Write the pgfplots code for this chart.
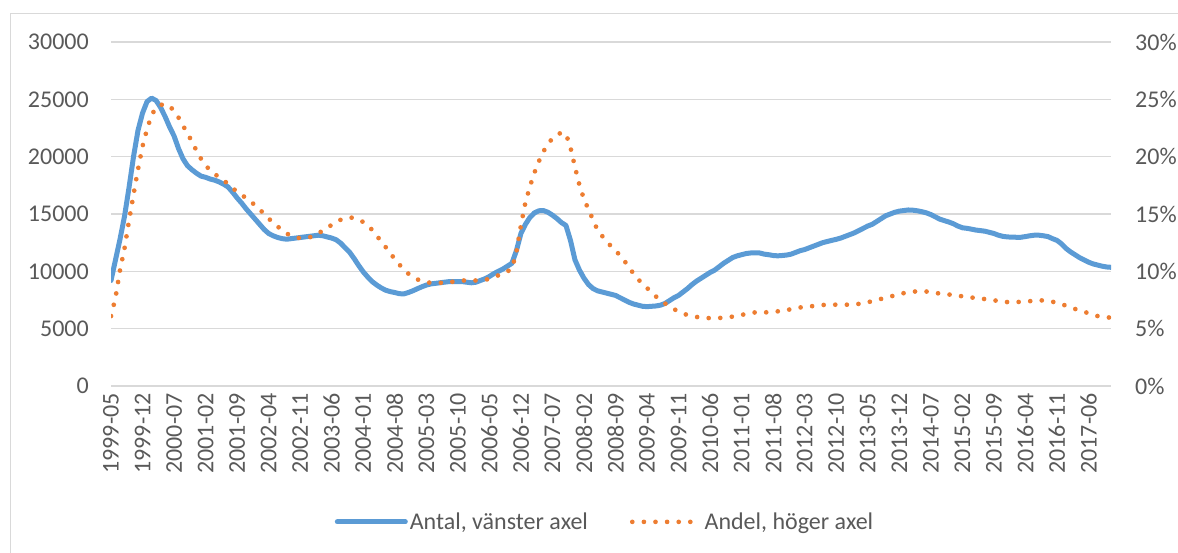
\documentclass[border=0pt]{standalone}
\usepackage{pgfplots}
\pgfplotsset{compat=1.18}
\usepackage{pgfplotstable}
\usepackage{fontspec}
\setmainfont{Carlito}
\definecolor{cblue}{HTML}{5B9BD5}
\definecolor{corange}{HTML}{ED7D31}
\definecolor{cgrid}{HTML}{D9D9D9}
\definecolor{ctext}{HTML}{595959}

% month index 0 = 1999-05
\pgfplotstableread{
m v
0 9200
1 11000
2 12800
3 14800
4 17300
5 20000
6 22300
7 23800
8 24800
9 25100
10 24900
11 24300
12 23500
13 22600
14 21800
15 20700
16 19800
17 19200
18 18850
19 18550
20 18300
21 18200
22 18050
23 17950
24 17800
25 17600
26 17350
27 16900
28 16400
29 15950
30 15450
31 15000
32 14550
33 14100
34 13650
35 13300
36 13100
37 12950
38 12850
39 12800
40 12850
41 12900
42 12950
43 13000
44 13050
45 13100
46 13150
47 13100
48 13000
49 12900
50 12750
51 12450
52 12050
53 11650
54 11100
55 10500
56 9950
57 9500
58 9100
59 8800
60 8550
61 8350
62 8230
63 8150
64 8050
65 8030
66 8150
67 8300
68 8480
69 8650
70 8800
71 8900
72 8950
73 9000
74 9050
75 9100
76 9100
77 9100
78 9100
79 9050
80 9000
81 9050
82 9200
83 9350
84 9550
85 9800
86 10000
87 10200
88 10450
89 10700
90 11800
91 13300
92 14100
93 14700
94 15100
95 15280
96 15300
97 15150
98 14900
99 14600
100 14250
101 14000
102 12700
103 11000
104 10100
105 9400
106 8850
107 8500
108 8300
109 8200
110 8100
111 8000
112 7900
113 7700
114 7500
115 7300
116 7150
117 7050
118 6950
119 6920
120 6950
121 6980
122 7050
123 7200
124 7450
125 7700
126 7900
127 8200
128 8500
129 8850
130 9150
131 9400
132 9650
133 9900
134 10100
135 10400
136 10700
137 10950
138 11200
139 11350
140 11450
141 11550
142 11600
143 11620
144 11600
145 11500
146 11450
147 11380
148 11350
149 11380
150 11420
151 11500
152 11650
153 11800
154 11900
155 12050
156 12200
157 12350
158 12500
159 12600
160 12700
161 12790
162 12900
163 13050
164 13200
165 13350
166 13550
167 13750
168 13950
169 14100
170 14350
171 14600
172 14850
173 15000
174 15150
175 15250
176 15300
177 15350
178 15330
179 15280
180 15200
181 15100
182 14950
183 14750
184 14550
185 14420
186 14300
187 14150
188 13950
189 13800
190 13750
191 13680
192 13600
193 13550
194 13500
195 13400
196 13300
197 13150
198 13050
199 13000
200 12980
201 12970
202 12970
203 13030
204 13100
205 13150
206 13150
207 13100
208 13030
209 12850
210 12700
211 12400
212 12000
213 11700
214 11450
215 11200
216 11000
217 10800
218 10650
219 10550
220 10450
221 10380
222 10350
}\antal

\pgfplotstableread{
m v
0 6.1
1 7.7
2 10.1
3 12.0
4 14.4
5 16.7
6 18.9
7 20.9
8 22.4
9 23.6
10 24.3
11 24.5
12 24.6
13 24.4
14 24.0
15 23.4
16 22.7
17 22.0
18 21.3
19 20.5
20 19.8
21 19.25
22 18.8
23 18.5
24 18.2
25 17.95
26 17.6
27 17.25
28 16.95
29 16.65
30 16.4
31 16.1
32 15.75
33 15.4
34 15.0
35 14.6
36 14.25
37 13.9
38 13.6
39 13.3
40 13.1
41 12.95
42 12.9
43 12.9
44 12.95
45 13.1
46 13.3
47 13.55
48 13.8
49 14.05
50 14.3
51 14.5
52 14.65
53 14.7
54 14.65
55 14.5
56 14.3
57 14.0
58 13.6
59 13.1
60 12.6
61 12.1
62 11.6
63 11.05
64 10.6
65 10.15
66 9.8
67 9.5
68 9.3
69 9.15
70 9.05
71 9.0
72 9.0
73 9.0
74 9.0
75 9.05
76 9.1
77 9.15
78 9.2
79 9.2
80 9.2
81 9.2
82 9.2
83 9.25
84 9.35
85 9.5
86 9.65
87 9.8
88 10.0
89 10.2
90 11.7
91 14.0
92 16.0
93 17.4
94 18.6
95 19.6
96 20.45
97 21.1
98 21.6
99 21.9
100 22.1
101 22.0
102 20.8
103 19.1
104 17.5
105 16.3
106 15.4
107 14.5
108 13.6
109 13.1
110 12.6
111 12.2
112 11.8
113 11.4
114 10.9
115 10.35
116 9.8
117 9.3
118 8.95
119 8.55
120 8.15
121 7.8
122 7.5
123 7.2
124 6.95
125 6.7
126 6.5
127 6.3
128 6.2
129 6.1
130 6.02
131 5.97
132 5.93
133 5.92
134 5.92
135 5.93
136 5.96
137 6.0
138 6.05
139 6.12
140 6.2
141 6.28
142 6.36
143 6.42
144 6.42
145 6.42
146 6.43
147 6.47
148 6.51
149 6.56
150 6.62
151 6.7
152 6.78
153 6.85
154 6.88
155 6.93
156 6.98
157 7.02
158 7.06
159 7.09
160 7.09
161 7.09
162 7.09
163 7.09
164 7.09
165 7.12
166 7.16
167 7.22
168 7.3
169 7.4
170 7.5
171 7.6
172 7.7
173 7.8
174 7.9
175 8.0
176 8.1
177 8.18
178 8.22
179 8.26
180 8.28
181 8.24
182 8.18
183 8.12
184 8.06
185 8.02
186 7.98
187 7.93
188 7.88
189 7.82
190 7.77
191 7.72
192 7.67
193 7.63
194 7.58
195 7.54
196 7.48
197 7.4
198 7.34
199 7.32
200 7.32
201 7.32
202 7.34
203 7.36
204 7.4
205 7.44
206 7.47
207 7.46
208 7.42
209 7.35
210 7.25
211 7.15
212 7.0
213 6.85
214 6.72
215 6.6
216 6.47
217 6.35
218 6.22
219 6.1
220 6.05
221 6.0
222 5.95
}\andel

\begin{document}
\begin{tikzpicture}[x=1bp,y=1bp]
\useasboundingbox (0,0) rectangle (1178,553);
\draw[cgrid, line width=1.5bp] (10.5,-20) -- (10.5,539.5) -- (1200,539.5);
\pgfplotsset{
  common/.style={
    scale only axis, width=1000bp, height=344bp,
    at={(111bp,167bp)}, anchor=south west,
    xmin=0, xmax=222,
    axis line style={draw=none}, tick style={draw=none},
    font=\fontsize{24bp}{28bp}\selectfont,
    tick label style={text=ctext},
    scaled y ticks=false, scaled x ticks=false,
  }
}
\begin{axis}[common,
  ymin=0, ymax=30000,
  ytick={0,5000,10000,15000,20000,25000,30000},
  yticklabels={0,5000,10000,15000,20000,25000,30000},
  yticklabel style={anchor=east, inner sep=0pt},
  yticklabel shift=22bp,
  ymajorgrids, grid style={cgrid, line width=1.5bp},
  xtick={0,7,...,217},
  xticklabels={1999-05,1999-12,2000-07,2001-02,2001-09,2002-04,2002-11,2003-06,2004-01,2004-08,2005-03,2005-10,2006-05,2006-12,2007-07,2008-02,2008-09,2009-04,2009-11,2010-06,2011-01,2011-08,2012-03,2012-10,2013-05,2013-12,2014-07,2015-02,2015-09,2016-04,2016-11,2017-06},
  xticklabel style={rotate=90, anchor=east, inner sep=0pt},
  xticklabel shift=7bp,
]
\addplot[cblue, line width=5bp, line join=round, line cap=round] table[x=m,y=v]{\antal};
\end{axis}
\begin{axis}[common,
  ymin=0, ymax=30,
  axis y line*=right, axis x line=none,
  ytick={0,5,10,15,20,25,30},
  yticklabels={0\%,5\%,10\%,15\%,20\%,25\%,30\%},
  yticklabel style={anchor=west, inner sep=0pt},
  yticklabel shift=24bp,
  legend style={at={(0.494,-0.395)}, anchor=center, draw=none, fill=none,
    legend columns=2, text=ctext, font=\fontsize{24bp}{28bp}\selectfont,
    /tikz/every even column/.append style={column sep=40bp},
    /tikz/every odd column/.append style={column sep=0bp}},
  legend image code/.code={\draw[#1] (0bp,0bp) -- (68bp,0bp);},
]
\addlegendimage{cblue, line width=5bp, line cap=round}
\addlegendentry{Antal, vänster axel}
\addplot[corange, line width=4.7bp, line cap=round, dash pattern=on 0bp off 11.6bp] table[x=m,y=v]{\andel};
\addlegendentry{Andel, höger axel}
\end{axis}
\end{tikzpicture}
\end{document}
